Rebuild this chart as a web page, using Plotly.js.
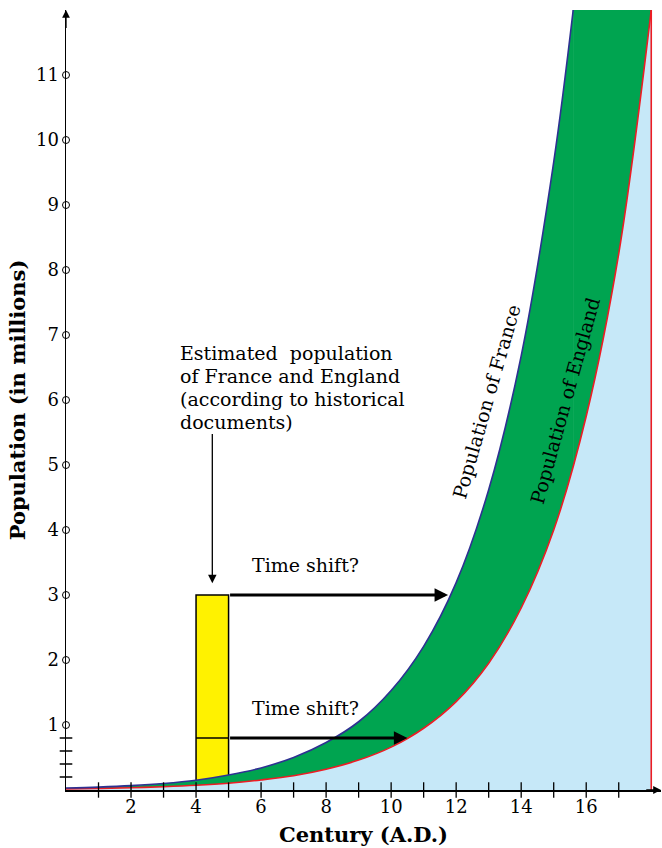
<!DOCTYPE html>
<html>
<head>
<meta charset="utf-8">
<script src="https://cdn.plot.ly/plotly-3.0.1.min.js"></script>
<style>html,body{margin:0;padding:0;background:#fff;}#chart{width:662px;height:848px;}</style>
</head>
<body>
<div id="chart"></div>
<script>
// ---- Data ----
var franceCenturies = [0, 1, 2, 3, 4, 5, 6, 7, 8, 9, 10, 11, 12, 13, 14, 15, 15.6];
var franceMillions  = [0.03, 0.045, 0.067, 0.1, 0.15, 0.23, 0.34, 0.5, 0.73, 1.05, 1.53, 2.21, 3.19, 4.62, 6.68, 9.66, 12];
var englandCenturies = [0, 1, 2, 3, 4, 5, 6, 7, 8, 9, 10, 11, 12, 13, 14, 15, 16, 17, 18];
var englandMillions  = [0.017, 0.024, 0.034, 0.05, 0.072, 0.105, 0.155, 0.22, 0.32, 0.46, 0.66, 0.95, 1.36, 1.95, 2.8, 4.0, 5.75, 8.25, 12];

// documented (historical) estimate: centuries 4-5
var docCenturies = [4, 5];
var docFrance = 3;
var docEngland = 0.8;
// centuries where the curves reach the documented values
var shiftFrance = 11.75;
var shiftEngland = 10.5;

var yMajorTicks = [1, 2, 3, 4, 5, 6, 7, 8, 9, 10, 11];
var yMinorTicks = [0.2, 0.4, 0.6, 0.8];
var xTicks = [1, 2, 3, 4, 5, 6, 7, 8, 9, 10, 11, 12, 13, 14, 15, 16, 17];
var xTickLabels = [2, 4, 6, 8, 10, 12, 14, 16];
var yMax = 12;
var xMax = 18.3;

// ---- Styles ----
var FONT = 'DejaVu Serif, serif';
var GREEN = '#00a450';
var LIGHTBLUE = '#c6e8f8';
var YELLOW = '#fff200';
var NAVY = '#2e3192';
var RED = '#ed1c24';

function franceAt(c) {
  var i = franceCenturies.indexOf(c);
  return franceMillions[i];
}

var lastEng = englandCenturies[englandCenturies.length - 1];
var franceEnd = franceCenturies[franceCenturies.length - 1];

var traces = [];
// green band: area under France ...
traces.push({
  x: franceCenturies, y: franceMillions,
  mode: 'lines', line: {width: 0, shape: 'spline'},
  fill: 'tozeroy', fillcolor: GREEN, hoverinfo: 'skip'
});
// ... and the part beyond the point where France leaves the chart
traces.push({
  x: [franceEnd, lastEng, lastEng, franceEnd, franceEnd], y: [0, 0, yMax, yMax, 0],
  mode: 'lines', line: {width: 1, color: GREEN},
  fill: 'toself', fillcolor: GREEN, hoverinfo: 'skip'
});
// light blue area under England
traces.push({
  x: englandCenturies, y: englandMillions,
  mode: 'lines', line: {color: RED, width: 1.6, shape: 'spline'},
  fill: 'tozeroy', fillcolor: LIGHTBLUE, hoverinfo: 'skip'
});
// right border of the England area
traces.push({
  x: [lastEng, lastEng], y: [0, englandMillions[englandMillions.length - 1]],
  mode: 'lines', line: {color: RED, width: 1.6}, hoverinfo: 'skip'
});
// documented population bar (yellow)
var b0 = docCenturies[0], b1 = docCenturies[1];
traces.push({
  x: [b0, b0, b1, b1], y: [franceAt(b0), docFrance, docFrance, franceAt(b1)],
  mode: 'lines', line: {color: '#000', width: 1.5},
  fill: 'toself', fillcolor: YELLOW, hoverinfo: 'skip'
});
// England level inside the bar
traces.push({
  x: [b0, b1], y: [docEngland, docEngland],
  mode: 'lines', line: {color: '#000', width: 1.3}, hoverinfo: 'skip'
});
// France curve
traces.push({
  x: franceCenturies, y: franceMillions,
  mode: 'lines', line: {color: NAVY, width: 1.6, shape: 'spline'}, hoverinfo: 'skip'
});
// x ticks crossing the axis
traces.push({
  x: xTicks, y: xTicks.map(function(){return 0;}),
  mode: 'markers', cliponaxis: false,
  marker: {symbol: 'line-ns', size: 11, line: {color: '#000', width: 1.3}}, hoverinfo: 'skip'
});
// y minor ticks
traces.push({
  x: yMinorTicks.map(function(){return 0;}), y: yMinorTicks,
  mode: 'markers', cliponaxis: false,
  marker: {symbol: 'line-ew', size: 9, line: {color: '#000', width: 1.5}}, hoverinfo: 'skip'
});
// y major tick circles
traces.push({
  x: yMajorTicks.map(function(){return 0;}), y: yMajorTicks,
  mode: 'markers', cliponaxis: false,
  marker: {symbol: 'circle', size: 7, color: '#fff', line: {color: '#000', width: 1}}, hoverinfo: 'skip'
});

var txt = {family: FONT, size: 19, color: '#000'};
function note(x, y, text, extra) {
  var a = {x: x, y: y, xref: 'x', yref: 'y', text: text, showarrow: false, font: txt, borderpad: 0};
  for (var k in (extra || {})) a[k] = extra[k];
  return a;
}
var annotations = [
  // axis arrowheads
  {x: 0, y: yMax, ax: 0, ay: yMax - 0.3, xref: 'x', yref: 'y', axref: 'x', ayref: 'y',
   text: '', showarrow: true, arrowhead: 2, arrowsize: 1.2, arrowwidth: 1.3, arrowcolor: '#000', standoff: 0},
  {x: xMax, y: 0, ax: xMax - 0.5, ay: 0, xref: 'x', yref: 'y', axref: 'x', ayref: 'y',
   text: '', showarrow: true, arrowhead: 2, arrowsize: 1.2, arrowwidth: 1.3, arrowcolor: '#000', standoff: 0},
  // time shift arrows
  {x: shiftFrance, y: docFrance, ax: b1, ay: docFrance, xref: 'x', yref: 'y', axref: 'x', ayref: 'y',
   text: '', showarrow: true, arrowhead: 2, arrowsize: 0.9, arrowwidth: 3, arrowcolor: '#000', standoff: 0},
  {x: shiftEngland, y: docEngland, ax: b1, ay: docEngland, xref: 'x', yref: 'y', axref: 'x', ayref: 'y',
   text: '', showarrow: true, arrowhead: 2, arrowsize: 0.9, arrowwidth: 3, arrowcolor: '#000', standoff: 0},
  // arrow from the note to the bar
  {x: (b0 + b1) / 2, y: docFrance + 0.18, ax: (b0 + b1) / 2, ay: 5.5, xref: 'x', yref: 'y', axref: 'x', ayref: 'y',
   text: '', showarrow: true, arrowhead: 2, arrowsize: 1.3, arrowwidth: 1.3, arrowcolor: '#000', standoff: 0},
  // texts
  note(7.38, 3.46, 'Time shift?'),
  note(7.38, 1.26, 'Time shift?'),
  note(3.48, 6.72, 'Estimated\u00a0\u00a0population', {xanchor: 'left'}),
  note(3.48, 6.37, 'of France and England', {xanchor: 'left'}),
  note(3.48, 6.02, '(according to historical', {xanchor: 'left'}),
  note(3.48, 5.66, 'documents)', {xanchor: 'left'}),
  note(12.94, 5.98, 'Population of France', {textangle: -74}),
  note(15.35, 5.98, 'Population of England', {textangle: -74.5})
];

var layout = {
  width: 662, height: 848,
  margin: {l: 66, r: 1, t: 10, b: 58},
  paper_bgcolor: '#fff', plot_bgcolor: '#fff',
  showlegend: false,
  font: {family: FONT, size: 18, color: '#000'},
  xaxis: {
    range: [0, xMax], showgrid: false, zeroline: false,
    showline: true, linecolor: '#000', linewidth: 1.5,
    tickmode: 'array', tickvals: xTickLabels, ticktext: xTickLabels.map(String),
    ticks: '', tickfont: {family: FONT, size: 18, color: '#000'},
    title: {text: '<b>Century (A.D.)</b>', font: {family: FONT, size: 21, color: '#000'}, standoff: 11},
    fixedrange: true
  },
  yaxis: {
    range: [0, yMax], showgrid: false, zeroline: false,
    showline: true, linecolor: '#000', linewidth: 1.5,
    tickmode: 'array', tickvals: yMajorTicks, ticktext: yMajorTicks.map(String),
    ticks: 'outside', ticklen: 2, tickcolor: 'rgba(0,0,0,0)',
    tickfont: {family: FONT, size: 18, color: '#000'},
    title: {text: '<b>Population (in millions)</b>', font: {family: FONT, size: 21, color: '#000'}, standoff: 4},
    fixedrange: true
  },
  annotations: annotations
};

Plotly.newPlot('chart', traces, layout, {displayModeBar: false, staticPlot: true});
</script>
</body>
</html>
